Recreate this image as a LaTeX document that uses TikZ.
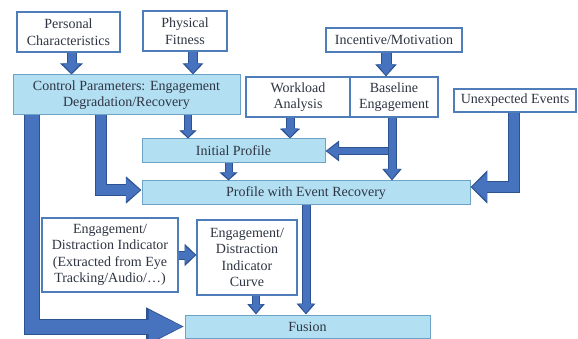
\documentclass[tikz,border=0pt]{standalone}
\usepackage{fontspec}
\setmainfont{Liberation Serif}
\usetikzlibrary{arrows.meta}

\definecolor{boxedge}{HTML}{4F7DBA}
\definecolor{paleedge}{HTML}{6DA3C4}
\definecolor{paleblue}{HTML}{B2E0F2}
\definecolor{arrowfill}{HTML}{4672BE}
\definecolor{arrowedge}{HTML}{2C5290}
\definecolor{inktext}{HTML}{2E3442}

\tikzset{
  box/.style={draw=boxedge, line width=1.2pt, fill=white, align=center, inner sep=0pt,
    text=inktext, font=\fontsize{14}{16.5}\selectfont},
  pale/.style={box, draw=paleedge, line width=1pt, fill=paleblue},
  flow/.style args={#1/#2/#3}{draw=arrowedge, line width=#1, line join=miter,
    -{Triangle[length=0pt #2, width=0pt #3]},
    postaction={draw=arrowfill, line width=#1-2pt, shorten >=1.4pt,
      -{Triangle[length=1pt #2, width=0pt #3]}}},
}

\begin{document}
\begin{tikzpicture}[x=1pt, y=-1pt]
  \useasboundingbox (0,0) rectangle (578,339);
  % boxes
  \node[box, minimum width=103, minimum height=40] (pc) at (68.5,32) {Personal\\Characteristics};
  \node[box, minimum width=84, minimum height=40] (pf) at (185,31) {Physical\\Fitness};
  \node[box, minimum width=136, minimum height=24] (im) at (394,40) {Incentive/Motivation};
  \node[pale, minimum width=227, minimum height=40] (cp) at (126.5,95) {Control Parameters: Engagement\\Degradation/Recovery};
  \node[box, minimum width=104, minimum height=40] (wa) at (298,97) {Workload\\Analysis};
  \node[box, minimum width=88, minimum height=40] (bl) at (394,97) {Baseline\\Engagement};
  \node[box, minimum width=122, minimum height=23] (ue) at (515,100.5) {Unexpected Events};
  \node[pale, minimum width=183, minimum height=24] (ip) at (233.5,151) {Initial Profile};
  \node[pale, minimum width=328, minimum height=24] (pr) at (306,193) {Profile with Event Recovery};
  \node[box, minimum width=136, minimum height=74] (ei) at (110,255) {Engagement/\\Distraction Indicator\\(Extracted from Eye\\Tracking/Audio/\dots)};
  \node[box, minimum width=100, minimum height=75] (ec) at (247,257.5) {Engagement/\\Distraction\\Indicator\\Curve};
  \node[pale, minimum width=245, minimum height=23] (fu) at (307.5,326.5) {Fusion};

  % arrows
  \draw[flow=10pt/1.1/2.2] ([xshift=3]pc.south) -- ([xshift=3]pc.south |- cp.north);
  \draw[flow=10pt/1.1/2.0] ([xshift=8]pf.south) -- ([xshift=8]pf.south |- cp.north);
  \draw[flow=11pt/1.1/1.9] ([xshift=-8]im.south) -- ([xshift=-8]im.south |- bl.north);
  \draw[flow=8pt/1/2.1] ([xshift=61.5]cp.south) -- ([xshift=61.5]cp.south |- ip.north);
  \draw[flow=9pt/1.1/2.2] ([xshift=-8]wa.south) -- ([xshift=-8]wa.south |- ip.north);
  \coordinate (split) at ([xshift=-2]bl.south |- ip.east);
  \draw[flow=8pt/1.7/2.5] (split) -- (ip.east);
  \draw[flow=9pt/1.3/2.1] ([xshift=-2]bl.south) -- ([xshift=-2]bl.south |- pr.north);
  \draw[flow=8pt/1/2.2] ([xshift=-5]ip.south) -- ([xshift=-5]ip.south |- pr.north);
  \draw[flow=12pt/1.3/2.2] ([xshift=-25.5]cp.south) |- ([yshift=3]pr.west);
  \draw[flow=16pt/2.4/2.2] ([xshift=-94.5]cp.south) |- (fu.west);
  \draw[flow=12pt/1.4/2.7] ([xshift=-1]ue.south) |- ([yshift=6]pr.east);
  \draw[flow=9pt/1.2/2] (pr.south) -- (pr.south |- fu.north);
  \draw[flow=9pt/1.3/2.4] (ei.east) -- (ec.west |- ei.east);
  \draw[flow=8pt/1.3/2.1] ([xshift=9]ec.south) -- ([xshift=9]ec.south |- fu.north);
\end{tikzpicture}
\end{document}
